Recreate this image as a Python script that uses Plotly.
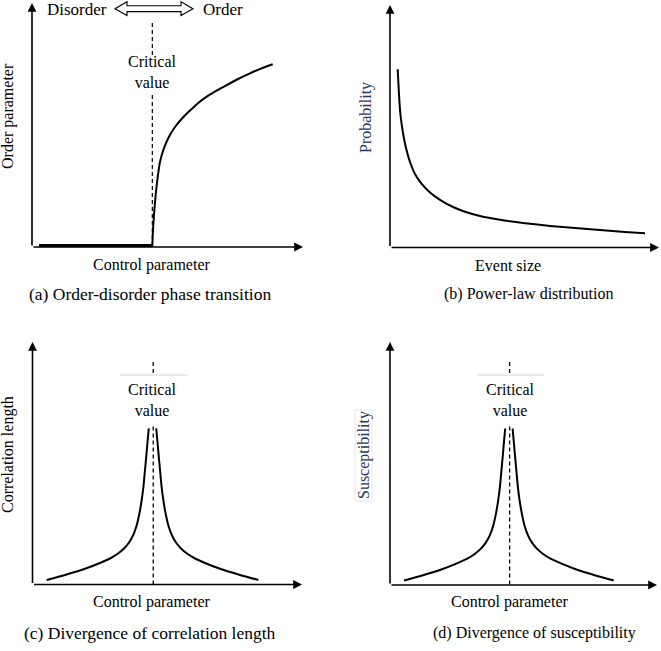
import plotly.graph_objects as go

# ---------------- data (arbitrary units, axes run 0..100) ----------------
# (a) order-disorder phase transition
ctrl_flat_x = [2.6, 44.3]
order_flat_y = [0.6, 0.6]
ctrl_rise_x = [44.39, 44.65, 45.02, 45.39, 45.94, 46.49, 47.23, 48.34, 49.70, 51.11, 52.77,
               55.35, 58.30, 61.25, 64.46, 68.08, 71.85, 76.01, 80.44, 84.50, 88.82]
order_rise_y = [0.0, 6.97, 13.11, 18.44, 24.59, 29.51, 34.84, 39.34, 43.24, 46.31, 49.18,
                52.66, 55.94, 58.93, 61.60, 64.10, 66.39, 68.85, 71.19, 73.11, 74.88]
critical_a = 44.4
crit_a_segments_y = [[62.3, 0.0], [91.8, 78.7]]

# (b) power-law distribution
event_size = [2.86, 3.35, 3.90, 4.83, 5.95, 7.43, 9.29, 11.78, 14.87, 18.59,
              23.05, 27.88, 33.46, 40.89, 50.19, 59.48, 68.77, 78.07, 87.36, 94.80]
probability = [73.48, 62.89, 54.64, 47.22, 41.03, 35.26, 30.31, 26.19, 22.68, 19.67,
               16.91, 14.72, 12.99, 11.42, 10.02, 8.91, 8.00, 7.18, 6.43, 5.86]

# (c)/(d) divergence at the critical value
ctrl_left_x = [5.27, 12.06, 19.48, 25.05, 28.76, 31.73, 33.95, 35.81, 37.29, 38.59,
               39.63, 40.52, 41.19, 41.74, 42.26, 42.71, 43.15]
peak_left_y = [1.86, 3.92, 6.47, 8.87, 10.72, 12.78, 14.85, 17.32, 20.21, 24.12,
               29.07, 34.85, 40.62, 47.22, 53.40, 59.18, 64.41]
ctrl_right_x = [45.91, 46.35, 46.80, 47.32, 47.87, 48.54, 49.43, 50.47, 51.77, 53.25,
                55.11, 57.33, 60.30, 64.01, 69.58, 77.00, 83.79]
peak_right_y = [64.41, 59.18, 53.40, 47.22, 40.62, 34.85, 29.07, 24.12, 20.21, 17.32,
                14.85, 12.78, 10.72, 8.87, 6.47, 3.92, 1.86]
critical_cd = 44.8
crit_cd_segments_y = [[65.2, 0.0], [91.8, 86.4]]

x_titles = ["Control parameter", "Event size", "Control parameter", "Control parameter"]
y_titles = ["Order parameter", "Probability", "Correlation length", "Susceptibility"]
captions = ["(a) Order-disorder phase transition", "(b) Power-law distribution",
            "(c) Divergence of correlation length", "(d) Divergence of susceptibility"]

# ---------------- layout geometry (pixels) ----------------
W, H = 661, 651
# origin x, origin y, x-arrow tip, y-arrow top
geom = [(32, 247, 303, 3), (390, 247.5, 659, 5), (32.5, 584.5, 302, 342), (390, 585, 657, 342)]
PADL, PADB = 8, 8

def fx(px):
    return px / W

def fy(py):
    return 1 - py / H

FONT = "'Liberation Serif', 'Times New Roman', Times, serif"
fig = go.Figure()
layout_axes = {}
annotations = []
shapes = []

for i, (ox, oy, tx, ty) in enumerate(geom):
    n = i + 1
    sx = 100.0 / (tx - ox)
    sy = 100.0 / (oy - ty)
    left, right = ox - PADL, min(tx + 1, W - 0.5)
    top, bottom = max(ty - 2, 0), oy + PADB
    xa = "xaxis" if n == 1 else f"xaxis{n}"
    ya = "yaxis" if n == 1 else f"yaxis{n}"
    layout_axes[xa] = dict(domain=[fx(left), fx(right)], range=[(left - ox) * sx, (right - ox) * sx],
                           visible=False, anchor=f"y{n}" if n > 1 else "y", fixedrange=True)
    layout_axes[ya] = dict(domain=[fy(bottom), fy(top)], range=[(oy - bottom) * sy, (oy - top) * sy],
                           visible=False, anchor=f"x{n}" if n > 1 else "x", fixedrange=True)
    xr = "x" if n == 1 else f"x{n}"
    yr = "y" if n == 1 else f"y{n}"
    # axis arrows
    for (hx, hy) in [(100, 0), (0, 100)]:
        annotations.append(dict(x=hx, y=hy, ax=0, ay=0, xref=xr, yref=yr, axref=xr, ayref=yr,
                                text="", showarrow=True, arrowhead=2, arrowsize=1.1, arrowwidth=1.6,
                                arrowcolor="black", standoff=0, startstandoff=0))

def line_trace(x, y, n, width=2.0, dash=None, shape="spline"):
    xr = "x" if n == 1 else f"x{n}"
    yr = "y" if n == 1 else f"y{n}"
    return go.Scatter(x=x, y=y, xaxis=xr, yaxis=yr, mode="lines", showlegend=False, hoverinfo="skip",
                      line=dict(color="black", width=width, dash=dash, shape=shape, smoothing=0.6))

DASH = "4px,3px"
# (a)
fig.add_trace(line_trace(ctrl_flat_x, order_flat_y, 1, width=3.0, shape="linear"))
fig.add_trace(line_trace(ctrl_rise_x, order_rise_y, 1))
for seg in crit_a_segments_y:
    fig.add_trace(line_trace([critical_a] * len(seg), seg, 1, width=1.2, dash=DASH, shape="linear"))
# (b)
fig.add_trace(line_trace(event_size, probability, 2))
# (c), (d)
for n in (3, 4):
    fig.add_trace(line_trace(ctrl_left_x, peak_left_y, n))
    fig.add_trace(line_trace(ctrl_right_x, peak_right_y, n))
    for seg in crit_cd_segments_y:
        fig.add_trace(line_trace([critical_cd] * len(seg), seg, n, width=1.3, dash=DASH, shape="linear"))

# ---------------- texts ----------------
def txt(text, px, py, size=16, color="black", angle=0, family=FONT):
    annotations.append(dict(text=text, x=fx(px), y=fy(py), xref="paper", yref="paper",
                            xanchor="center", yanchor="middle", showarrow=False, textangle=angle,
                            font=dict(family=family, size=size, color=color)))

xt_pos = [(152, 265), (508, 265), (152, 602), (510, 602)]
yt_pos = [(8, 116, "black"), (366, 118, "#1f3864"), (8, 455, "black"), (364, 455, "#1f3864")]
cap_pos = [(150, 294, 17.5), (528, 294, 16), (150, 633, 17.5), (534, 633, 16)]
for k in range(4):
    txt(x_titles[k], *xt_pos[k])
    txt(y_titles[k], yt_pos[k][0], yt_pos[k][1], color=yt_pos[k][2], angle=-90)
    txt(captions[k], cap_pos[k][0], cap_pos[k][1], size=cap_pos[k][2])

txt("Critical<br>value", 152, 72.5)
txt("Critical<br>value", 152.5, 399.5)
txt("Critical<br>value", 510, 399.5)
txt("Disorder", 77, 9, size=17)
txt("Order", 223, 9, size=17)

# hollow double arrow between Disorder and Order
pts = [(115, 8.7), (127, 1.8), (127, 5.8), (181, 5.8), (181, 1.8), (193, 8.7),
       (181, 15.6), (181, 11.6), (127, 11.6), (127, 15.6)]
path = "M " + " L ".join(f"{fx(a):.5f},{fy(b):.5f}" for a, b in pts) + " Z"
shapes.append(dict(type="path", path=path, xref="paper", yref="paper",
                   line=dict(color="black", width=1.1), fillcolor="white"))

# faint rules above "Critical value" in (c) and (d)
for (x0, x1) in [(120, 188), (477, 544)]:
    shapes.append(dict(type="line", x0=fx(x0), x1=fx(x1), y0=fy(375), y1=fy(375), xref="paper", yref="paper",
                       line=dict(color="#d4d4d4", width=1)))
# faint frame around "Susceptibility"
shapes.append(dict(type="rect", x0=fx(355), x1=fx(372), y0=fy(410), y1=fy(501), xref="paper", yref="paper",
                   line=dict(color="#e6e6e6", width=1), fillcolor="rgba(0,0,0,0)"))

fig.update_layout(width=W, height=H, margin=dict(l=0, r=0, t=0, b=0), paper_bgcolor="white",
                  plot_bgcolor="white", showlegend=False, annotations=annotations, shapes=shapes,
                  font=dict(family=FONT), **layout_axes)

fig.write_html("out.html", config={"displayModeBar": False})
